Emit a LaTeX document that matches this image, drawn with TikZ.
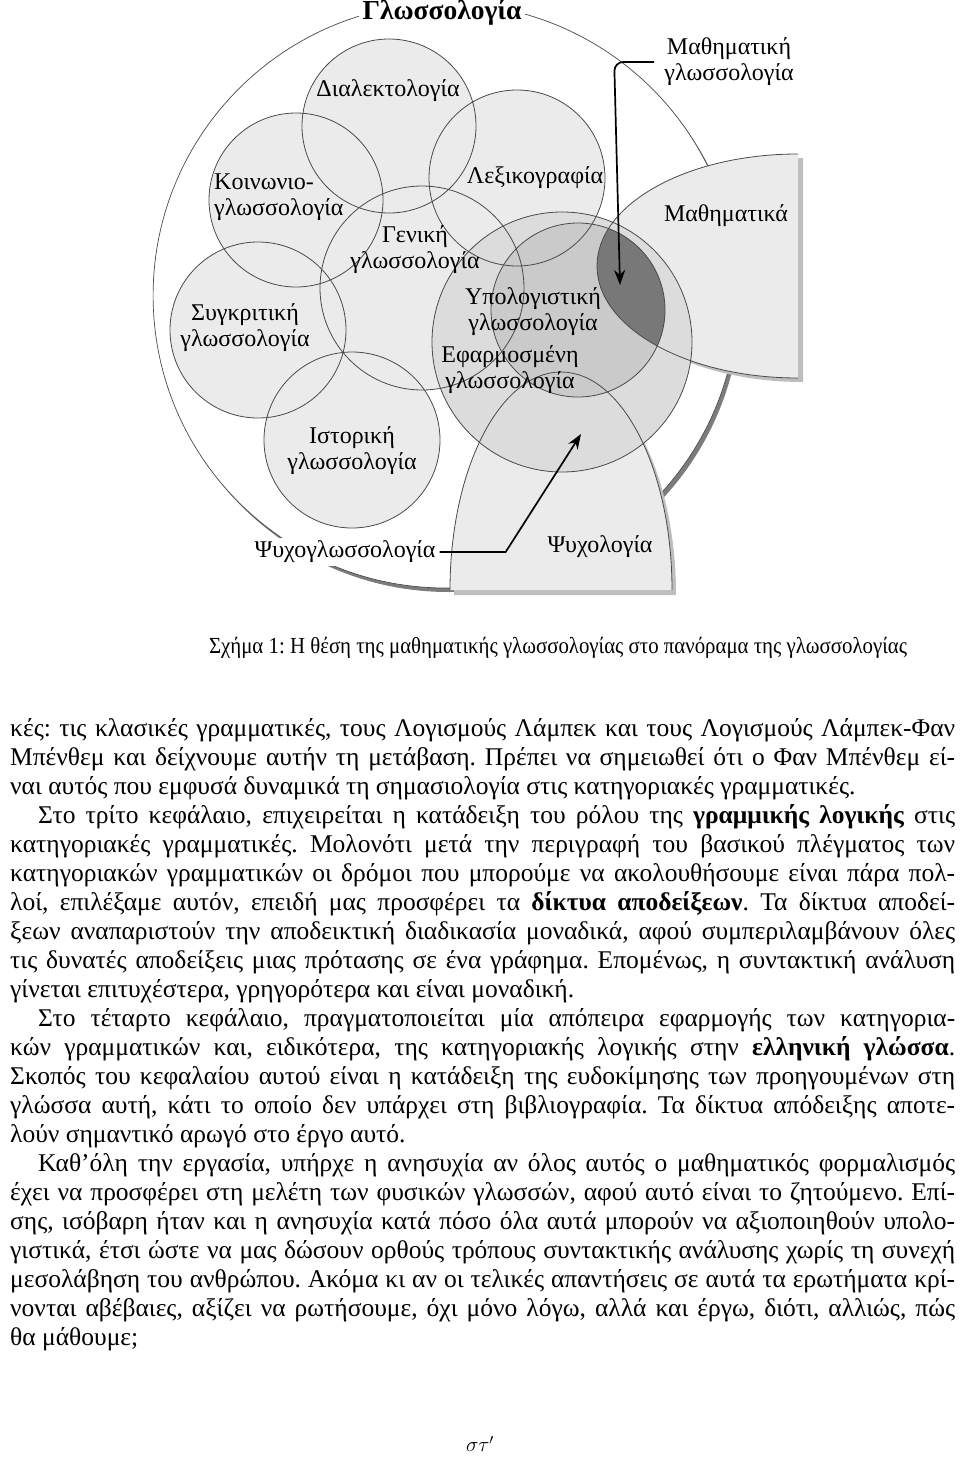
\documentclass[tikz,border=0pt]{standalone}
\usepackage{fontspec}
\usepackage{graphicx}
\setmainfont{Liberation Serif}
\usetikzlibrary{arrows.meta}
\definecolor{lightfill}{HTML}{EBEBEB}
\definecolor{midfill}{HTML}{DCDCDC}
\definecolor{darkfill}{HTML}{CACACA}
\definecolor{lensfill}{HTML}{787878}
\definecolor{edge}{HTML}{4A4A4A}
\definecolor{outershadow}{HTML}{7C7C7C}
\definecolor{boxshadow}{HTML}{BEBEBE}
\newlength{\LW}\setlength{\LW}{945pt}
\newsavebox{\lbox}
\newcommand{\jline}[1]{\sbox{\lbox}{#1}\ifdim\wd\lbox>\LW\resizebox{\LW}{\ht\lbox}{\usebox{\lbox}}\else\makebox[\LW][s]{#1}\fi}
\newcommand{\nline}[1]{\sbox{\lbox}{#1}\ifdim\wd\lbox>\LW\resizebox{\LW}{\ht\lbox}{\usebox{\lbox}}\else\usebox{\lbox}\fi}
\newcommand{\ind}{\hspace*{28pt}}
\frenchspacing
\tikzset{
  circ/.style={draw=edge, line width=0.8pt},
  lab/.style={font=\fontsize{24}{26}\selectfont, align=center, inner sep=1pt},
  body/.style={anchor=base west, inner sep=0pt, font=\fontsize{25.5}{29}\selectfont},
  arr/.style={line width=1.7pt, black, -{Stealth[length=15pt,width=11pt]}},
}
\begin{document}
\begin{tikzpicture}[x=1pt,y=-1pt]
\useasboundingbox (0,0) rectangle (960,1464);
% outer circle with shadow
\fill[outershadow] (448.5,299.6) circle[radius=292.4];
\filldraw[fill=white, draw=edge, line width=0.7pt] (445.5,295.6) circle[radius=292.4];
% Psychology shape
\fill[boxshadow] (676,595) arc[start angle=0,end angle=-180,x radius=111,y radius=218] -- cycle;
\fill[lightfill] (672,590) arc[start angle=0,end angle=-180,x radius=111,y radius=218] -- cycle;
% Mathematics shape
\fill[boxshadow] (803,382) arc[start angle=90,end angle=270,x radius=201,y radius=112] -- cycle;
\fill[lightfill] (798,378) arc[start angle=90,end angle=270,x radius=201,y radius=112] -- cycle;
% light circles
\fill[lightfill] (389,126) circle[radius=87];
\fill[lightfill] (296,200) circle[radius=87];
\fill[lightfill] (517,178) circle[radius=88];
\fill[lightfill] (422,288) circle[radius=102];
\fill[lightfill] (258,330) circle[radius=88];
\fill[lightfill] (352,440) circle[radius=88];
% applied / computational
\fill[midfill] (562,342) circle[radius=130];
\fill[darkfill] (578,310) circle[radius=87];
\begin{scope}
\clip (578,310) circle[radius=87];
\fill[lensfill] (798,378) arc[start angle=90,end angle=270,x radius=201,y radius=112] -- cycle;
\end{scope}
% borders
\draw[circ] (389,126) circle[radius=87];
\draw[circ] (296,200) circle[radius=87];
\draw[circ] (517,178) circle[radius=88];
\draw[circ] (422,288) circle[radius=102];
\draw[circ] (258,330) circle[radius=88];
\draw[circ] (352,440) circle[radius=88];
\draw[circ] (562,342) circle[radius=130];
\draw[circ] (578,310) circle[radius=87];
\draw[circ] (798,378) arc[start angle=90,end angle=270,x radius=201,y radius=112];
\draw[circ] (672,590) arc[start angle=0,end angle=-180,x radius=111,y radius=218];
% labels
\node[lab, font=\fontsize{27.5}{30}\selectfont\bfseries, fill=white, inner sep=4pt] (title) at (442,12) {Γλωσσολογία};
\node[lab] (mg) at (729,62) {Μαθηματική\\γλωσσολογία};
\node[lab] (dial) at (388,91) {Διαλεκτολογία};
\node[lab, align=left, anchor=west] (koin) at (213,197) {Κοινωνιο-\\γλωσσολογία};
\node[lab] (lex) at (535,178) {Λεξικογραφία};
\node[lab] (math) at (726,216) {Μαθηματικά};
\node[lab] (gen) at (415,250) {Γενική\\γλωσσολογία};
\node[lab] (syg) at (245,328) {Συγκριτική\\γλωσσολογία};
\node[lab] (ypo) at (533,312) {Υπολογιστική\\γλωσσολογία};
\node[lab] (efa) at (510,370) {Εφαρμοσμένη\\γλωσσολογία};
\node[lab] (ist) at (352,451) {Ιστορική\\γλωσσολογία};
\node[lab, fill=white, inner sep=3pt] (psl) at (345,552) {Ψυχογλωσσολογία};
\node[lab] (psy) at (600,547) {Ψυχολογία};
% arrows
\coordinate (mtip) at (620,285);
\coordinate (ptip) at (581,434);
\draw[arr, rounded corners=9pt] ([xshift=-9pt]mg.west) -- ++(-40,0) -- (mtip);
\draw[arr] ([xshift=1pt]psl.east) -- ++(66,0) -- (ptip);
% caption
\node[anchor=base, inner sep=0pt, font=\fontsize{23}{26}\selectfont] (cap) at (558,653) {\resizebox{698pt}{\height}{Σχήμα 1: Η θέση της μαθηματικής γλωσσολογίας στο πανόραμα της γλωσσολογίας}};
% body text
\node[body] (l1) at (10,736) {\jline{κές: τις κλασικές γραμματικές, τους Λογισμούς Λάμπεκ και τους Λογισμούς Λάμπεκ-Φαν}};
\node[body] (l2) at (10,765) {\jline{Μπένθεμ και δείχνουμε αυτήν τη μετάβαση. Πρέπει να σημειωθεί ότι ο Φαν Μπένθεμ εί-}};
\node[body] (l3) at (10,794) {\nline{ναι αυτός που εμφυσά δυναμικά τη σημασιολογία στις κατηγοριακές γραμματικές.}};
\node[body] (l4) at (10,823) {\jline{\ind Στο τρίτο κεφάλαιο, επιχειρείται η κατάδειξη του ρόλου της \textbf{γραμμικής λογικής} στις}};
\node[body] (l5) at (10,852) {\jline{κατηγοριακές γραμματικές. Μολονότι μετά την περιγραφή του βασικού πλέγματος των}};
\node[body] (l6) at (10,881) {\jline{κατηγοριακών γραμματικών οι δρόμοι που μπορούμε να ακολουθήσουμε είναι πάρα πολ-}};
\node[body] (l7) at (10,910) {\jline{λοί, επιλέξαμε αυτόν, επειδή μας προσφέρει τα \textbf{δίκτυα αποδείξεων}. Τα δίκτυα αποδεί-}};
\node[body] (l8) at (10,939) {\jline{ξεων αναπαριστούν την αποδεικτική διαδικασία μοναδικά, αφού συμπεριλαμβάνουν όλες}};
\node[body] (l9) at (10,968) {\jline{τις δυνατές αποδείξεις μιας πρότασης σε ένα γράφημα. Επομένως, η συντακτική ανάλυση}};
\node[body] (l10) at (10,997) {\nline{γίνεται επιτυχέστερα, γρηγορότερα και είναι μοναδική.}};
\node[body] (l11) at (10,1026) {\jline{\ind Στο τέταρτο κεφάλαιο, πραγματοποιείται μία απόπειρα εφαρμογής των κατηγορια-}};
\node[body] (l12) at (10,1055) {\jline{κών γραμματικών και, ειδικότερα, της κατηγοριακής λογικής στην \textbf{ελληνική γλώσσα}.}};
\node[body] (l13) at (10,1084) {\jline{Σκοπός του κεφαλαίου αυτού είναι η κατάδειξη της ευδοκίμησης των προηγουμένων στη}};
\node[body] (l14) at (10,1113) {\jline{γλώσσα αυτή, κάτι το οποίο δεν υπάρχει στη βιβλιογραφία. Τα δίκτυα απόδειξης αποτε-}};
\node[body] (l15) at (10,1142) {\nline{λούν σημαντικό αρωγό στο έργο αυτό.}};
\node[body] (l16) at (10,1171) {\jline{\ind Καθ’όλη την εργασία, υπήρχε η ανησυχία αν όλος αυτός ο μαθηματικός φορμαλισμός}};
\node[body] (l17) at (10,1200) {\jline{έχει να προσφέρει στη μελέτη των φυσικών γλωσσών, αφού αυτό είναι το ζητούμενο. Επί-}};
\node[body] (l18) at (10,1229) {\jline{σης, ισόβαρη ήταν και η ανησυχία κατά πόσο όλα αυτά μπορούν να αξιοποιηθούν υπολο-}};
\node[body] (l19) at (10,1258) {\jline{γιστικά, έτσι ώστε να μας δώσουν ορθούς τρόπους συντακτικής ανάλυσης χωρίς τη συνεχή}};
\node[body] (l20) at (10,1287) {\jline{μεσολάβηση του ανθρώπου. Ακόμα κι αν οι τελικές απαντήσεις σε αυτά τα ερωτήματα κρί-}};
\node[body] (l21) at (10,1316) {\jline{νονται αβέβαιες, αξίζει να ρωτήσουμε, όχι μόνο λόγω, αλλά και έργω, διότι, αλλιώς, πώς}};
\node[body] (l22) at (10,1345) {\nline{θα μάθουμε;}};
% page number
\node[inner sep=0pt, font=\fontsize{22}{26}\selectfont] (pg) at (480,1444) {$\sigma\tau'$};
\end{tikzpicture}
\end{document}
